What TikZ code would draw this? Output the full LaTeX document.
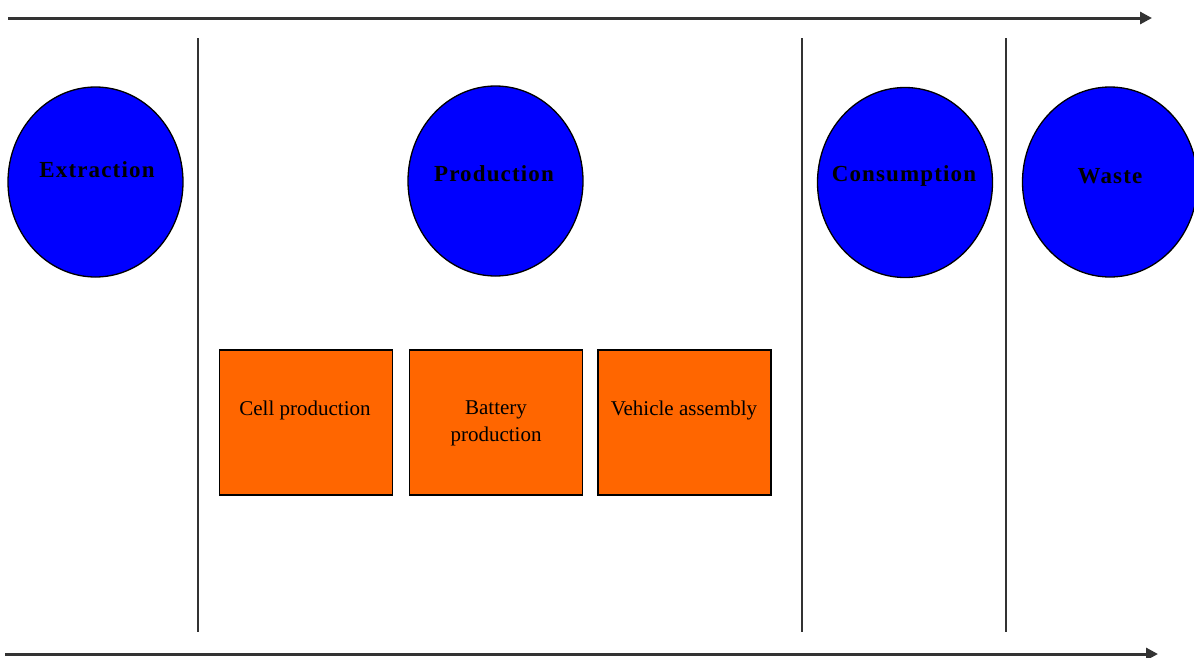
\documentclass[tikz,border=0pt]{standalone}
\usepackage{fontspec}
\setmainfont{Liberation Serif}
\newfontfamily\stagefont[LetterSpace=5]{Liberation Serif}
\usetikzlibrary{shapes.geometric,arrows.meta}
\definecolor{stageblue}{HTML}{0000FF}
\definecolor{boxorange}{HTML}{FF6600}
\definecolor{linegray}{HTML}{333333}
\tikzset{
  stage/.style={ellipse, draw=black, line width=1.3pt, fill=stageblue, minimum width=175pt, minimum height=190pt, inner sep=0pt},
  stagelabel/.style={anchor=base, inner sep=0pt, font=\stagefont\fontsize{23}{27}\selectfont\bfseries},
  stepbox/.style={rectangle, draw=black, line width=1.5pt, fill=boxorange, minimum width=173pt, minimum height=145pt, inner sep=0pt},
  boxlabel/.style={anchor=north, inner sep=0pt, align=center, font=\fontsize{21}{27}\selectfont},
  flow/.style={draw=linegray, line width=3pt, -{Triangle[length=12pt,width=12pt]}},
  divider/.style={draw=linegray, line width=1.3pt}
}
\begin{document}
\begin{tikzpicture}[x=1pt,y=-1pt]
\useasboundingbox (0,0) rectangle (1194,657);
% flow arrows
\coordinate (ts) at (8,18);
\coordinate (te) at (1152,18);
\coordinate (bs) at (5,654);
\coordinate (be) at (1158,654);
\draw[flow] (ts) -- (te);
\draw[flow] (bs) -- (be);
% dividers
\foreach \x/\n in {198/a,802/b,1006/c}{
  \coordinate (d\n t) at (\x,38);
  \coordinate (d\n b) at (\x,632);
  \draw[divider] (d\n t) -- (d\n b);
}
% stages
\node[stage] (extraction) at (95.5,182) {};
\node[stage] (production) at (495.5,181) {};
\node[stage] (consumption) at (905,182.5) {};
\node[stage] (waste) at (1110,182) {};
\node[stagelabel] (lext) at (97,177) {Extraction};
\node[stagelabel] (lprod) at (494,181) {Production};
\node[stagelabel] (lcons) at (904,181) {Consumption};
\node[stagelabel] (lwaste) at (1110,183) {Waste};
% production steps
\node[stepbox] (cell) at (306,422.5) {};
\node[stepbox] (battery) at (496,422.5) {};
\node[stepbox] (vehicle) at (684.5,422.5) {};
\node[boxlabel] (lcell) at (305,401) {Cell production};
\node[boxlabel] (lbat) at (496,401) {Battery\\production};
\node[boxlabel] (lveh) at (684,401) {Vehicle assembly};
\end{tikzpicture}
\end{document}
